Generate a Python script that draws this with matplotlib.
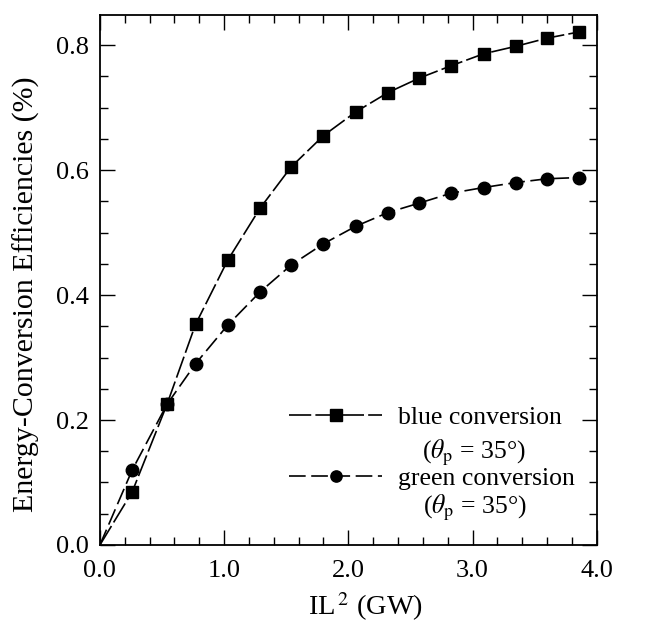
import matplotlib
matplotlib.use("Agg")
import matplotlib.pyplot as plt
from matplotlib.ticker import MultipleLocator, FormatStrFormatter

plt.rcParams['font.family'] = ['Liberation Serif', 'DejaVu Serif']
plt.rcParams['mathtext.fontset'] = 'stix'
plt.rcParams['lines.scale_dashes'] = False

# Data
x_power = [0.0, 0.26, 0.54, 0.77, 1.03, 1.29, 1.54, 1.80, 2.06, 2.32, 2.57,
           2.83, 3.09, 3.35, 3.60, 3.86]
blue_eff = [0.0, 0.085, 0.225, 0.353, 0.456, 0.539, 0.605, 0.655, 0.693, 0.724,
            0.747, 0.767, 0.786, 0.798, 0.811, 0.821]
green_eff = [0.0, 0.120, 0.225, 0.290, 0.352, 0.405, 0.448, 0.482, 0.510, 0.532,
             0.547, 0.563, 0.572, 0.580, 0.586, 0.588]
x_ticks = [0.0, 1.0, 2.0, 3.0, 4.0]
y_ticks = [0.0, 0.2, 0.4, 0.6, 0.8]

fig = plt.figure(figsize=(6.66, 6.26), dpi=100)
ax = fig.add_axes([0.150, 0.1294, 0.746, 0.8466])

lb, = ax.plot(x_power, blue_eff, color='black', lw=1.2, dashes=(16, 3),
              marker='s', markersize=9, markevery=list(range(1, len(x_power))))
lg, = ax.plot(x_power, green_eff, color='black', lw=1.2, dashes=(12, 4),
              marker='o', markersize=9, markevery=list(range(1, len(x_power))))

ax.set_xlim(0, 4.0)
ax.set_ylim(0, 0.848)
ax.set_xticks(x_ticks)
ax.set_yticks(y_ticks)
ax.xaxis.set_major_formatter(FormatStrFormatter('%.1f'))
ax.yaxis.set_major_formatter(FormatStrFormatter('%.1f'))
ax.xaxis.set_minor_locator(MultipleLocator(0.2))
ax.yaxis.set_minor_locator(MultipleLocator(0.05))
ax.tick_params(which='both', direction='in', top=True, right=True, labelsize=19, width=1.0)
ax.tick_params(which='major', length=11)
ax.tick_params(which='minor', length=6)
ax.tick_params(axis='x', which='major', pad=11)
ax.tick_params(axis='y', which='major', pad=8)
for s in ax.spines.values():
    s.set_linewidth(1.3)

ax.set_xlabel('IL$^{\\,2}$ (GW)', fontsize=20.5)
ax.set_ylabel('Energy-Conversion Efficiencies (%)', fontsize=21.5)
ax.xaxis.set_label_coords((366 - 100) / 497, (545 - 590) / 530)
ax.yaxis.set_label_coords((40 - 100) / 497, (545 - 294) / 530)

leg = ax.legend([lb, lg], ['blue conversion', 'green conversion'],
                loc='upper left', bbox_to_anchor=(0.380, 0.262), frameon=False,
                fontsize=18.5, handlelength=3.65, handletextpad=0.6,
                labelspacing=1.49, borderpad=0, borderaxespad=0, markerscale=0.9)

ax.text((474 - 100) / 497, (545 - 453) / 530, r'($\theta_{\mathrm{p}}$ = 35°)',
        transform=ax.transAxes, ha='center', va='center', fontsize=18.5)
ax.text((475 - 100) / 497, (545 - 508) / 530, r'($\theta_{\mathrm{p}}$ = 35°)',
        transform=ax.transAxes, ha='center', va='center', fontsize=18.5)

fig.savefig('out.png', dpi=100)
